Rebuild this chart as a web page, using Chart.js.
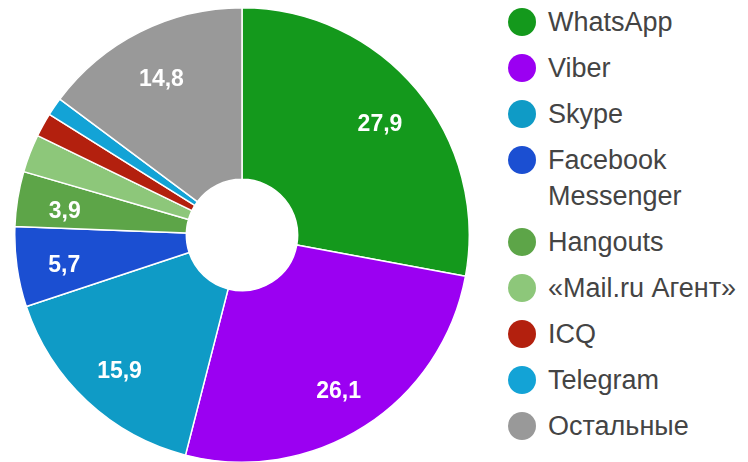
<!DOCTYPE html>
<html>
<head>
<meta charset="utf-8">
<script src="https://cdn.jsdelivr.net/npm/chart.js@4/dist/chart.umd.min.js"></script>
<style>
  body { margin: 0; background: #fff; width: 748px; height: 462px; overflow: hidden; position: relative; font-family: Arial, "Liberation Sans", sans-serif; }
  #wrap { position: absolute; left: 14px; top: 7px; width: 456px; height: 456px; }
  #legenda { position: absolute; left: 508px; top: 4px; }
  .item { display: flex; align-items: flex-start; margin-bottom: 10px; }
  .bola { width: 28px; height: 28px; border-radius: 50%; margin-top: 4px; flex: none; }
  .txt { margin-left: 12px; width: 200px; font-size: 27px; line-height: 36px; color: #444; white-space: normal; }
</style>
</head>
<body>
<div id="wrap"><canvas id="grafico"></canvas></div>
<div id="legenda"></div>
<script>
// Dados do gráfico
const categorias = ['WhatsApp', 'Viber', 'Skype', 'Facebook Messenger', 'Hangouts', '«Mail.ru Агент»', 'ICQ', 'Telegram', 'Остальные'];
const valores = [27.9, 26.1, 15.9, 5.7, 3.9, 2.7, 1.7, 1.3, 14.8];
const cores = ['#14991c', '#9b00f2', '#0f9bc6', '#1b4fd2', '#5da548', '#8dc77a', '#b3200e', '#13a3d6', '#999999'];

// Legenda em HTML
const legenda = document.getElementById('legenda');
categorias.forEach((nome, i) => {
  const div = document.createElement('div');
  div.className = 'item';
  const bola = document.createElement('span');
  bola.className = 'bola';
  bola.style.background = cores[i];
  const txt = document.createElement('span');
  txt.className = 'txt';
  txt.textContent = nome;
  if (nome === '«Mail.ru Агент»') txt.style.whiteSpace = 'nowrap';
  div.appendChild(bola);
  div.appendChild(txt);
  legenda.appendChild(div);
});

// Rótulos com os valores dentro das fatias
const rotulos = {
  id: 'rotulos',
  afterDatasetsDraw(chart) {
    const ctx = chart.ctx;
    const meta = chart.getDatasetMeta(0);
    ctx.save();
    ctx.font = 'bold 23px Arial, "Liberation Sans", sans-serif';
    ctx.fillStyle = '#ffffff';
    ctx.textAlign = 'center';
    ctx.textBaseline = 'middle';
    meta.data.forEach((arc, i) => {
      const v = valores[i];
      if (v < 3.5) return;
      const p = arc.getProps(['x', 'y', 'startAngle', 'endAngle', 'outerRadius']);
      const meio = (p.startAngle + p.endAngle) / 2;
      const r = p.outerRadius * 0.79;
      ctx.fillText(v.toFixed(1).replace('.', ','), p.x + Math.cos(meio) * r, p.y + Math.sin(meio) * r + 5);
    });
    ctx.restore();
  }
};

const ctx = document.getElementById('grafico').getContext('2d');
const chart = new Chart(ctx, {
  type: 'doughnut',
  data: {
    labels: categorias,
    datasets: [{
      data: valores,
      backgroundColor: cores,
      borderColor: '#ffffff',
      borderWidth: 1.5
    }]
  },
  options: {
    responsive: true,
    maintainAspectRatio: false,
    animation: false,
    cutout: '24.5%',
    layout: { padding: 0 },
    plugins: {
      legend: { display: false },
      tooltip: { enabled: false }
    }
  },
  plugins: [rotulos]
});
</script>
</body>
</html>
